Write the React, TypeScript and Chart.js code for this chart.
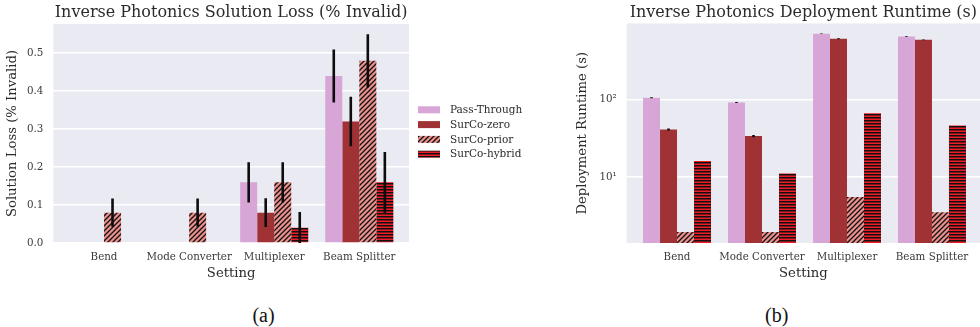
import React, { useEffect, useRef } from 'react';
import { Chart, registerables } from 'chart.js';

Chart.register(...registerables);

// ---------------- data ----------------
const categories = ['Bend', 'Mode Converter', 'Multiplexer', 'Beam Splitter'];
const categoryPositions = [0, 1, 2, 3];
const methods = ['Pass-Through', 'SurCo-zero', 'SurCo-prior', 'SurCo-hybrid'];

// (a) Solution loss (% invalid)
const lossPassThrough = [0, 0, 0.16, 0.44];
const lossZero = [0, 0, 0.08, 0.32];
const lossPrior = [0.08, 0.08, 0.16, 0.48];
const lossHybrid = [0, 0, 0.04, 0.16];
const lossErrPassThrough = [0, 0, 0.053, 0.07];
const lossErrZero = [0, 0, 0.038, 0.065];
const lossErrPrior = [0.037, 0.037, 0.053, 0.07];
const lossErrHybrid = [0, 0, 0.042, 0.08];
const lossTicks = [0, 0.1, 0.2, 0.3, 0.4, 0.5];

// (b) Deployment runtime (s), log scale
const runtimePassThrough = [106, 92, 713, 658];
const runtimeZero = [41.3, 33.8, 614, 596];
const runtimePrior = [1.95, 1.95, 5.5, 3.5];
const runtimeHybrid = [16.1, 11.1, 67, 46.5];
const runtimeErrPassThrough = [1.5, 1.5, 3, 8];
const runtimeErrZero = [1.2, 1.2, 8, 7];
const runtimeErrPrior = [0, 0, 0, 0];
const runtimeErrHybrid = [0, 0, 0, 0];
const runtimeTicks = [10, 100];
const runtimeTickLabels: Record<number, string> = { 10: '10\u00B9', 100: '10\u00B2' };

// ---------------- styling ----------------
const FONT = "'DejaVu Serif', serif";
const TEXT = '#2b2b2b';
const TICK_TEXT = '#3a3a3a';
const BG = '#EAEAF2';
const COLORS = ['#d7a6d7', '#a03134', '#eb908d', '#ec1d26'];

function diagPattern(ctx: CanvasRenderingContext2D, bg: string) {
  const s = 5;
  const c = document.createElement('canvas');
  c.width = s;
  c.height = s;
  const g = c.getContext('2d')!;
  g.fillStyle = bg;
  g.fillRect(0, 0, s, s);
  g.strokeStyle = '#111111';
  g.lineWidth = 1.3;
  g.beginPath();
  g.moveTo(0, s);
  g.lineTo(s, 0);
  g.moveTo(-1, 1);
  g.lineTo(1, -1);
  g.moveTo(s - 1, s + 1);
  g.lineTo(s + 1, s - 1);
  g.stroke();
  return ctx.createPattern(c, 'repeat')!;
}

function stripePattern(ctx: CanvasRenderingContext2D, bg: string) {
  const c = document.createElement('canvas');
  c.width = 4;
  c.height = 6;
  const g = c.getContext('2d')!;
  g.fillStyle = bg;
  g.fillRect(0, 0, 4, 6);
  g.fillStyle = '#111';
  g.fillRect(0, 0, 4, 1.5);
  g.fillRect(0, 3, 4, 1.5);
  return ctx.createPattern(c, 'repeat')!;
}

const bgPlugin = {
  id: 'bgArea',
  beforeDraw(chart: any) {
    const { ctx, chartArea: a } = chart;
    ctx.save();
    ctx.fillStyle = BG;
    ctx.fillRect(a.left, a.top, a.right - a.left, a.bottom - a.top);
    ctx.restore();
  },
};

function titlePlugin(text: string, baseline: number) {
  return {
    id: 'axTitle',
    afterDraw(chart: any) {
      const { ctx, chartArea: a } = chart;
      ctx.save();
      ctx.font = `16px ${FONT}`;
      ctx.fillStyle = TEXT;
      ctx.textAlign = 'center';
      ctx.textBaseline = 'alphabetic';
      ctx.fillText(text, (a.left + a.right) / 2, baseline);
      ctx.restore();
    },
  };
}

function errorPlugin(errs: number[][]) {
  return {
    id: 'errBars',
    afterDatasetsDraw(chart: any) {
      const { ctx, chartArea: a } = chart;
      const ys = chart.scales.y;
      ctx.save();
      ctx.beginPath();
      ctx.rect(a.left, a.top, a.right - a.left, a.bottom - a.top);
      ctx.clip();
      ctx.strokeStyle = '#0d0d0d';
      ctx.lineWidth = 2.6;
      chart.data.datasets.forEach((ds: any, i: number) => {
        const meta = chart.getDatasetMeta(i);
        meta.data.forEach((el: any, j: number) => {
          const e = errs[i][j];
          if (!e) return;
          const v = ds.data[j].y;
          ctx.beginPath();
          ctx.moveTo(el.x, ys.getPixelForValue(v + e));
          ctx.lineTo(el.x, ys.getPixelForValue(v - e));
          ctx.stroke();
        });
      });
      ctx.restore();
    },
  };
}

const legendPlugin = {
  id: 'sideLegend',
  afterDraw(chart: any) {
    const { ctx, chartArea: a } = chart;
    ctx.save();
    const x0 = a.right + 9;
    const y0 = 109.8;
    const step = 14.8;
    chart.data.datasets.forEach((ds: any, i: number) => {
      const cy = y0 + i * step;
      ctx.fillStyle = ds.backgroundColor;
      ctx.fillRect(x0, cy - 3.5, 22, 7);
      ctx.font = `10.5px ${FONT}`;
      ctx.fillStyle = TEXT;
      ctx.textAlign = 'left';
      ctx.textBaseline = 'middle';
      ctx.fillText(ds.label, x0 + 32, cy + 0.5);
    });
    ctx.restore();
  },
};

function makeDatasets(ctx: CanvasRenderingContext2D, series: number[][]) {
  const fills: any[] = [
    COLORS[0],
    COLORS[1],
    diagPattern(ctx, COLORS[2]),
    stripePattern(ctx, COLORS[3]),
  ];
  return series.map((vals, i) => ({
    label: methods[i],
    data: categoryPositions.map((x, j) => ({ x, y: vals[j] })),
    backgroundColor: fills[i],
    borderWidth: 0,
    barPercentage: 1,
    categoryPercentage: 0.8,
  }));
}

function xScale(min: number, max: number) {
  return {
    type: 'linear',
    min,
    max,
    offset: false,
    grid: { display: false, drawTicks: false, tickLength: 0, offset: false },
    border: { display: false },
    afterBuildTicks: (s: any) => {
      s.ticks = categoryPositions.map((v) => ({ value: v }));
    },
    afterFit: (s: any) => {
      s.height = 40;
    },
    ticks: {
      callback: (v: any) => categories[v] ?? '',
      font: { family: FONT, size: 10.3 },
      color: TICK_TEXT,
      padding: 8,
      maxRotation: 0,
      autoSkip: false,
    },
    title: {
      display: true,
      text: 'Setting',
      font: { family: FONT, size: 13.2 },
      color: TEXT,
      padding: { top: 0, bottom: 2 },
    },
  };
}

function LossChart() {
  const ref = useRef<HTMLCanvasElement>(null);
  useEffect(() => {
    const canvas = ref.current!;
    const ctx = canvas.getContext('2d')!;
    const chart = new Chart(ctx, {
      type: 'bar',
      data: {
        datasets: makeDatasets(ctx, [lossPassThrough, lossZero, lossPrior, lossHybrid]) as any,
      },
      options: {
        animation: false,
        responsive: false,
        maintainAspectRatio: false,
        devicePixelRatio: 1,
        events: [],
        layout: { padding: { left: 0, top: 24, right: 151, bottom: 17 } },
        plugins: { legend: { display: false }, title: { display: false }, tooltip: { enabled: false } },
        scales: {
          x: xScale(-0.596, 3.584) as any,
          y: {
            type: 'linear',
            min: 0,
            max: 0.577,
            afterBuildTicks: (s: any) => {
              s.ticks = lossTicks.map((v) => ({ value: v }));
            },
            afterFit: (s: any) => {
              s.width = 53.3;
            },
            grid: { color: '#ffffff', lineWidth: 1.5, drawTicks: false, tickLength: 0 },
            border: { display: false },
            ticks: {
              callback: (v: any) => Number(v).toFixed(1),
              font: { family: FONT, size: 10.3 },
              color: TICK_TEXT,
              padding: 10,
            },
            title: {
              display: true,
              text: 'Solution Loss (% Invalid)',
              font: { family: FONT, size: 13.2 },
              color: TEXT,
              padding: { top: 5, bottom: 0 },
            },
          },
        },
      },
      plugins: [
        bgPlugin,
        titlePlugin('Inverse Photonics Solution Loss (% Invalid)', 17.3),
        errorPlugin([lossErrPassThrough, lossErrZero, lossErrPrior, lossErrHybrid]),
        legendPlugin,
      ],
    });
    return () => chart.destroy();
  }, []);
  return (
    <canvas
      ref={ref}
      width={560}
      height={300}
      style={{ position: 'absolute', left: 0, top: 0, width: 560, height: 300 }}
    />
  );
}

function RuntimeChart() {
  const ref = useRef<HTMLCanvasElement>(null);
  useEffect(() => {
    const canvas = ref.current!;
    const ctx = canvas.getContext('2d')!;
    const chart = new Chart(ctx, {
      type: 'bar',
      data: {
        datasets: makeDatasets(ctx, [runtimePassThrough, runtimeZero, runtimePrior, runtimeHybrid]) as any,
      },
      options: {
        animation: false,
        responsive: false,
        maintainAspectRatio: false,
        devicePixelRatio: 1,
        events: [],
        layout: { padding: { left: 0, top: 23.5, right: 0, bottom: 17 } },
        plugins: { legend: { display: false }, title: { display: false }, tooltip: { enabled: false } },
        scales: {
          x: xScale(-0.592, 3.565) as any,
          y: {
            type: 'logarithmic',
            min: 1.4,
            max: 968,
            afterBuildTicks: (s: any) => {
              s.ticks = runtimeTicks.map((v) => ({ value: v }));
            },
            afterFit: (s: any) => {
              s.width = 66.7;
            },
            grid: { color: '#ffffff', lineWidth: 1.5, drawTicks: false, tickLength: 0 },
            border: { display: false },
            ticks: {
              callback: (v: any) => runtimeTickLabels[v] ?? '',
              font: { family: FONT, size: 10.3 },
              color: TICK_TEXT,
              padding: 10,
            },
            title: {
              display: true,
              text: 'Deployment Runtime (s)',
              font: { family: FONT, size: 13.2 },
              color: TEXT,
              padding: { top: 15, bottom: 0 },
            },
          },
        },
      },
      plugins: [
        bgPlugin,
        titlePlugin('Inverse Photonics Deployment Runtime (s)', 17),
        errorPlugin([runtimeErrPassThrough, runtimeErrZero, runtimeErrPrior, runtimeErrHybrid]),
      ],
    });
    return () => chart.destroy();
  }, []);
  return (
    <canvas
      ref={ref}
      width={420}
      height={300}
      style={{ position: 'absolute', left: 560, top: 0, width: 420, height: 300 }}
    />
  );
}

const captionStyle: React.CSSProperties = {
  position: 'absolute',
  top: 305,
  fontFamily: "'Liberation Serif', 'Times New Roman', serif",
  fontSize: 20,
  lineHeight: '20px',
  color: '#111',
  transform: 'translateX(-50%)',
  whiteSpace: 'nowrap',
};

export default function App() {
  useEffect(() => {
    document.body.style.margin = '0';
  }, []);
  return (
    <div
      style={{
        position: 'relative',
        width: 980,
        height: 327,
        overflow: 'hidden',
        background: '#ffffff',
      }}
    >
      <style>{'body{margin:0;}'}</style>
      <LossChart />
      <RuntimeChart />
      <div style={{ ...captionStyle, left: 263.5 }}>(a)</div>
      <div style={{ ...captionStyle, left: 776.7 }}>(b)</div>
    </div>
  );
}
